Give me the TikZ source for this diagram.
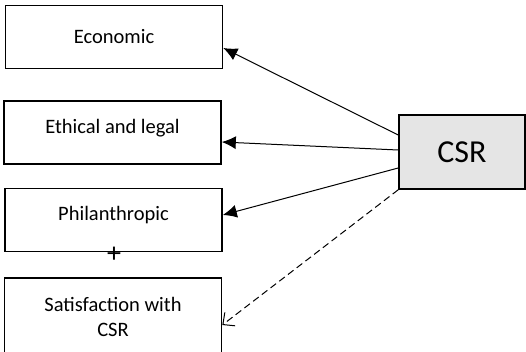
\documentclass[tikz,border=0pt]{standalone}
\usepackage{fontspec}
\setmainfont{Carlito}
\usetikzlibrary{arrows.meta}
\tikzset{
  factor/.style={draw, line width=1.6pt, minimum width=217pt, minimum height=63pt,
    align=center, inner sep=0pt, font=\fontsize{20.5}{24.5}\selectfont},
  csrbox/.style={draw, line width=1.6pt, fill=black!10, minimum width=126pt,
    minimum height=74pt, inner sep=0pt, font=\fontsize{32}{36}\selectfont},
  link/.style={line width=1pt, -{Latex[length=14pt,width=13pt]}},
  maybe/.style={line width=1pt, dash pattern=on 7pt off 4pt,
    -{Straight Barb[length=9pt,width=17pt,line width=1pt]}}
}
\begin{document}
\begin{tikzpicture}[x=1pt, y=-1pt]
  \useasboundingbox (0, 0) rectangle (526, 352);
  \node[factor] (econ) at (114, 37) {Economic};
  \node[factor, text depth=12pt] (ethic) at (112.5, 132.5) {Ethical and legal};
  \node[factor, text depth=14pt] (phil) at (113.5, 220) {Philanthropic};
  \node[factor, minimum height=78pt] (satis) at (113, 317) {Satisfaction with\\CSR};
  \node[font=\fontsize{28}{30}\selectfont, inner sep=0pt] (plus) at (114, 254.5) {+};
  \node[csrbox] (csr) at (462, 152) {CSR};
  % arrows from CSR
  \draw[link] ([yshift=17pt]csr.west) -- ([yshift=-11pt]econ.east);
  \draw[link] ([yshift=2pt]csr.west) -- ([yshift=-9.5pt]ethic.east);
  \draw[link] ([yshift=-16pt]csr.west) -- ([yshift=5pt]phil.east);
  \draw[maybe] (csr.south west) -- ([yshift=-8pt]satis.east);
\end{tikzpicture}
\end{document}
